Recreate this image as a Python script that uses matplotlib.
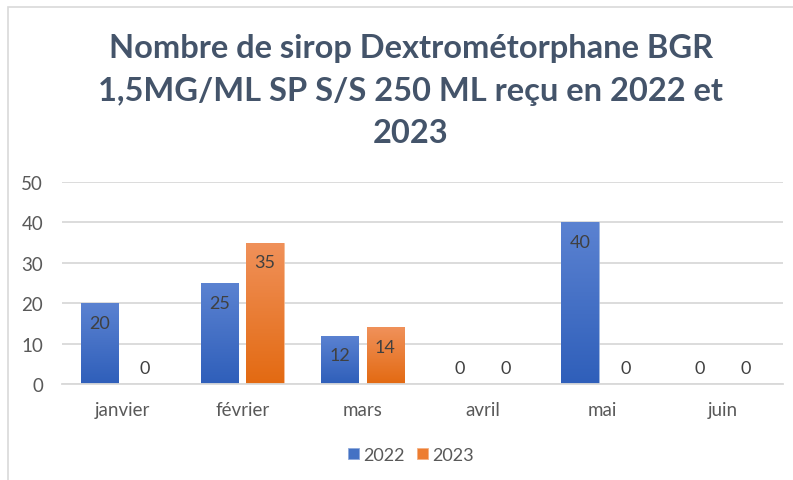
import numpy as np
import matplotlib.pyplot as plt
from matplotlib.patches import Rectangle
from matplotlib.colors import LinearSegmentedColormap

mois = ["janvier", "février", "mars", "avril", "mai", "juin"]
annees = ["2022", "2023"]
valeurs_2022 = [20, 25, 12, 0, 40, 0]
valeurs_2023 = [0, 35, 14, 0, 0, 0]
titre = "Nombre de sirop Dextrométorphane BGR\n1,5MG/ML SP S/S 250 ML reçu en 2022 et\n2023"

plt.rcParams["font.family"] = ["Lato", "DejaVu Sans"]
gris = "#595959"


def gradient_bars(ax, bars, top_col, bot_col):
    cmap = LinearSegmentedColormap.from_list("g", [bot_col, top_col])
    grad = np.linspace(0, 1, 100).reshape(-1, 1)
    for b in bars:
        if b.get_height() <= 0:
            continue
        x0, y0 = b.get_x(), b.get_y()
        w, h = b.get_width(), b.get_height()
        b.set_facecolor("none")
        im = ax.imshow(grad, cmap=cmap, aspect="auto", origin="lower",
                       extent=[x0, x0 + w, y0, y0 + h], zorder=2)
        im.set_clip_path(b)


fig = plt.figure(figsize=(7.93, 4.81), dpi=100)
ax = fig.add_axes([62 / 793, 1 - 385 / 481, 721 / 793, 202 / 481])

x = np.arange(len(mois))
w = 0.31
off = 0.19
b1 = ax.bar(x - off, valeurs_2022, w, color="#4472C4", edgecolor="#8EA9DB", linewidth=0.6, zorder=2)
b2 = ax.bar(x + off, valeurs_2023, w, color="#ED7D31", edgecolor="#F4B183", linewidth=0.6, zorder=2)
gradient_bars(ax, b1, "#5B82D1", "#2F5FBA")
gradient_bars(ax, b2, "#F0915A", "#E36A12")

for bars, vals in [(b1, valeurs_2022), (b2, valeurs_2023)]:
    for b, v in zip(bars, vals):
        cx = b.get_x() + b.get_width() / 2
        if v > 0:
            ax.text(cx, v - 2.9, str(v), ha="center", va="top", fontsize=13, color="#404040", zorder=3)
        else:
            ax.text(cx, 2.0, str(v), ha="center", va="bottom", fontsize=13, color="#404040", zorder=3)

ax.set_xlim(-0.5, len(mois) - 0.5)
ax.set_ylim(0, 50)
ax.set_yticks(range(0, 51, 10))
ax.set_xticks(x)
ax.set_xticklabels(mois)
ax.tick_params(length=0, labelsize=13.5, colors=gris)
ax.tick_params(axis="y", pad=13.5)
ax.tick_params(axis="x", pad=12)
ax.grid(axis="y", color="#D9D9D9", linewidth=1.3, zorder=0)
ax.set_axisbelow(True)
for s in ["top", "right", "left"]:
    ax.spines[s].set_visible(False)
ax.spines["bottom"].set_color("#D9D9D9")
ax.spines["bottom"].set_linewidth(1.3)

fig.text(411 / 793, 1 - 91 / 481, titre, ha="center", va="center", fontsize=23.5,
         fontweight="bold", color="#44546A", linespacing=1.55)

fig.legend([b1, b2], annees, loc="center", bbox_to_anchor=(411 / 793, 1 - 456 / 481),
           ncol=2, frameon=False, fontsize=13, labelcolor=gris,
           handlelength=0.6, handleheight=0.6, handletextpad=0.25, columnspacing=0.7)
leg = fig.legends[0]
leg.legend_handles[0].set_facecolor("#4472C4")
leg.legend_handles[1].set_facecolor("#ED7D31")

fig.patches.append(Rectangle((8 / 793, -0.05), 1.2, 1 - 8 / 481 + 0.05,
                             transform=fig.transFigure, fill=False,
                             edgecolor="#D9D9D9", linewidth=1.2))

fig.savefig("out.png", dpi=100)
